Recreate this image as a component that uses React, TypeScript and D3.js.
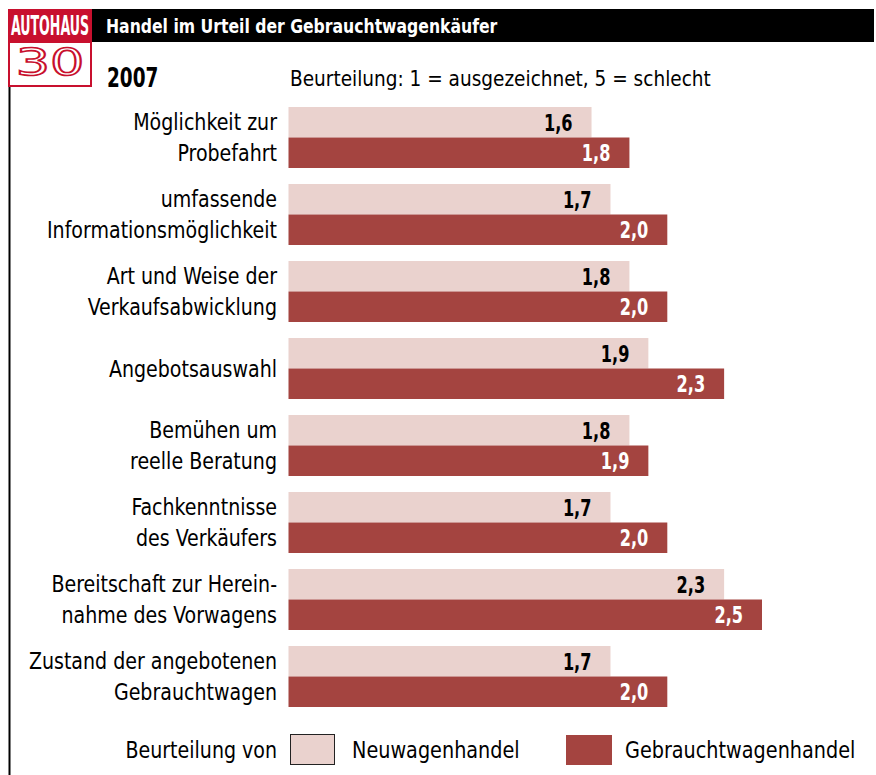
import React, { useEffect } from "react";
import * as d3 from "d3";

const categoryLines: string[][] = [
  ["Möglichkeit zur", "Probefahrt"],
  ["umfassende", "Informationsmöglichkeit"],
  ["Art und Weise der", "Verkaufsabwicklung"],
  ["Angebotsauswahl"],
  ["Bemühen um", "reelle Beratung"],
  ["Fachkenntnisse", "des Verkäufers"],
  ["Bereitschaft zur Herein-", "nahme des Vorwagens"],
  ["Zustand der angebotenen", "Gebrauchtwagen"],
];
const neuwagen = [1.6, 1.7, 1.8, 1.9, 1.8, 1.7, 2.3, 1.7];
const gebrauchtwagen = [1.8, 2.0, 2.0, 2.3, 1.9, 2.0, 2.5, 2.0];
const seriesNames = ["Neuwagenhandel", "Gebrauchtwagenhandel"];
const title = "Handel im Urteil der Gebrauchtwagenkäufer";
const year = "2007";
const subtitle = "Beurteilung: 1 = ausgezeichnet, 5 = schlecht";
const legendLabel = "Beurteilung von";
const logoTop = "AUTOHAUS";
const logoNum = "30";

const W = 876;
const H = 775;
const LIGHT = "#EAD2CE";
const DARK = "#A44440";
const LOGO_RED = "#C8102E";
const FONT = "'DejaVu Sans Condensed', 'Liberation Sans Narrow', sans-serif";

type TProps = {
  x: number;
  y: number;
  sx?: number;
  sy?: number;
  size: number;
  bold?: boolean;
  anchor?: "start" | "middle" | "end";
  fill?: string;
  stroke?: string;
  strokeWidth?: number;
  family?: string;
  children: React.ReactNode;
};

function T({ x, y, sx = 1, sy = 1, size, bold, anchor = "start", fill = "#000", stroke, strokeWidth, family, children }: TProps) {
  return (
    <text
      transform={`translate(${x},${y}) scale(${sx},${sy})`}
      fontSize={size}
      fontWeight={bold ? "bold" : "normal"}
      textAnchor={anchor}
      fill={fill}
      stroke={stroke}
      strokeWidth={strokeWidth}
      fontFamily={family}
    >
      {children}
    </text>
  );
}

export default function App() {
  useEffect(() => {
    document.body.style.margin = "0";
  }, []);

  const cats = categoryLines.map((l) => l.join(" "));
  const y = d3
    .scaleBand<string>()
    .domain(cats)
    .range([107, 707])
    .paddingInner(16 / 77)
    .paddingOuter(0);
  const ySub = d3.scaleBand<string>().domain(["neu", "geb"]).range([0, y.bandwidth()]);
  const x = d3.scaleLinear().domain([0, 2.5]).range([288.5, 762]);
  const fmt = (v: number) => d3.format(".1f")(v).replace(".", ",");

  const LS = 23; // label size
  const LX = 0.92; // label horizontal scale

  return (
    <svg width={W} height={H} style={{ display: "block" }} fontFamily={FONT}>
      <rect x={0} y={0} width={W} height={H} fill="#fff" />
      {/* header */}
      <rect x={92} y={9} width={782} height={33} fill="#000" />
      <T x={106} y={33} sx={0.87} size={20} bold fill="#fff">
        {title}
      </T>
      {/* logo */}
      <rect x={8} y={9} width={84} height={33} fill={LOGO_RED} />
      <T x={50} y={35} sx={0.52} size={27} bold fill="#fff" anchor="middle">
        {logoTop}
      </T>
      <rect x={9} y={42} width={82} height={44} fill="#fff" stroke={LOGO_RED} strokeWidth={2} />
      <T x={50} y={75} sx={1.42} size={38} fill="#fff" stroke={LOGO_RED} strokeWidth={1.6} anchor="middle" family="'DejaVu Sans', sans-serif">
        {logoNum}
      </T>
      {/* left rule */}
      <rect x={8.5} y={87} width={2} height={H - 87} fill="#000" />
      {/* year & subtitle */}
      <T x={107} y={87} sx={0.76} size={27} bold>
        {year}
      </T>
      <T x={290} y={86} sx={0.935} size={22}>
        {subtitle}
      </T>
      {/* bars */}
      {categoryLines.map((lines, i) => {
        const c = cats[i];
        const y0 = y(c)!;
        const vals = [
          { k: "neu", v: neuwagen[i], fill: LIGHT, tc: "#000" },
          { k: "geb", v: gebrauchtwagen[i], fill: DARK, tc: "#fff" },
        ];
        const bh = ySub.bandwidth();
        const labelYs =
          lines.length === 1
            ? [y0 + y.bandwidth() / 2 + 8]
            : [y0 + bh / 2 + 8, y0 + bh + bh / 2 + 8];
        return (
          <g key={c}>
            {vals.map((d) => (
              <g key={d.k}>
                <rect x={x(0)} y={y0 + ySub(d.k)!} width={x(d.v) - x(0)} height={bh} fill={d.fill} />
                <T x={x(d.v) - 19} y={y0 + ySub(d.k)! + bh / 2 + 8.5} sx={0.78} size={23} bold fill={d.tc} anchor="end">
                  {fmt(d.v)}
                </T>
              </g>
            ))}
            {lines.map((ln, j) => (
              <T key={j} x={277} y={labelYs[j]} sx={LX} size={LS} anchor="end">
                {ln}
              </T>
            ))}
          </g>
        );
      })}
      {/* legend */}
      <T x={277} y={758} sx={LX} size={LS} anchor="end">
        {legendLabel}
      </T>
      <rect x={290.5} y={734.5} width={44} height={30} fill={LIGHT} stroke="#222" strokeWidth={1} />
      <T x={352} y={758} sx={0.93} size={LS}>
        {seriesNames[0]}
      </T>
      <rect x={566} y={735} width={46} height={30} fill={DARK} />
      <T x={625} y={758} sx={0.93} size={LS}>
        {seriesNames[1]}
      </T>
    </svg>
  );
}
